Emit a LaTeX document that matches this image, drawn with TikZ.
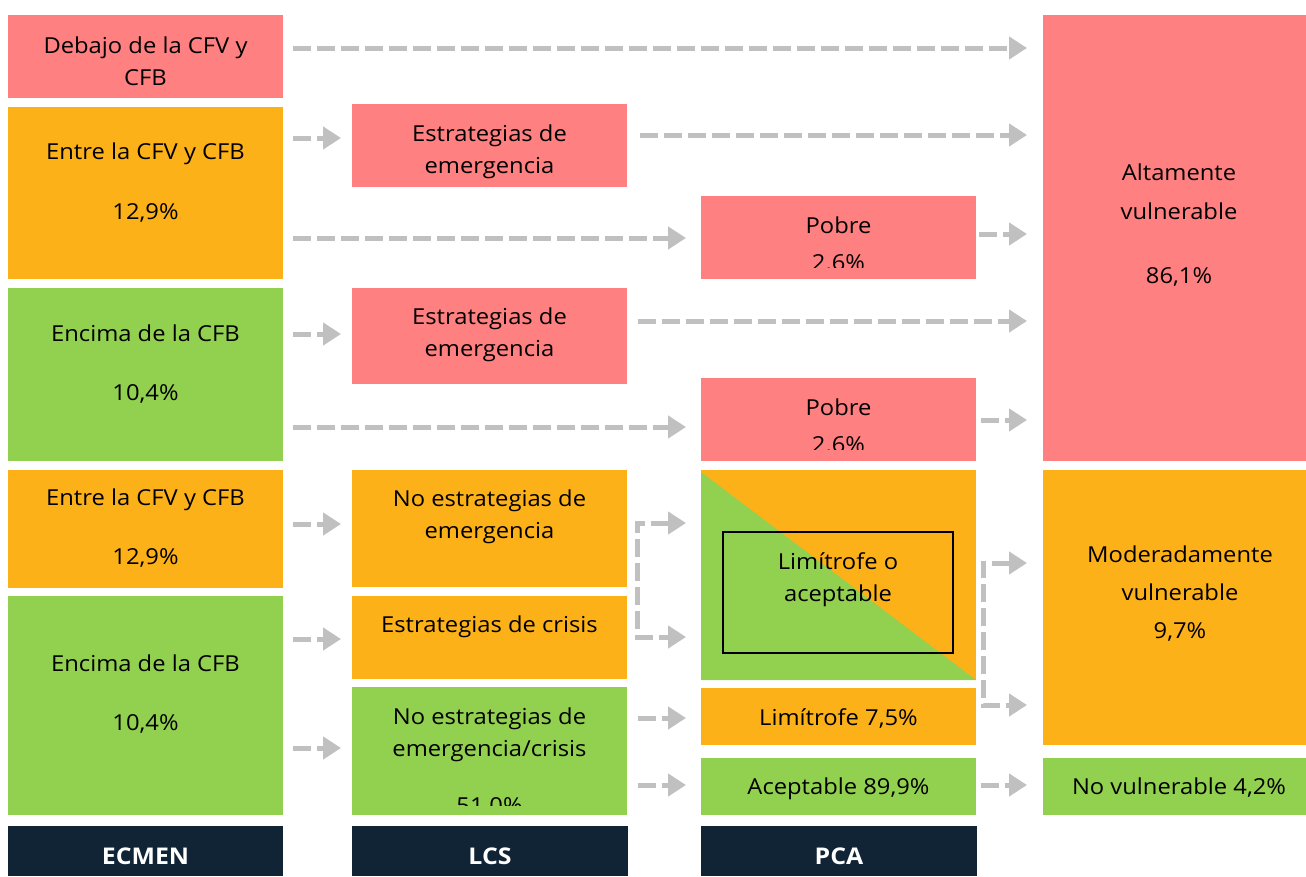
\documentclass[tikz,border=0pt]{standalone}
\usepackage{fontspec}
\setmainfont{Open Sans}[FakeStretch=1.08]
\usetikzlibrary{arrows.meta}
\definecolor{sal}{RGB}{255,128,128}
\definecolor{ora}{RGB}{253,177,25}
\definecolor{grn}{RGB}{146,208,80}
\definecolor{nav}{RGB}{16,36,53}
\definecolor{arr}{RGB}{192,192,192}
\begin{document}
\begin{tikzpicture}[x=1pt,y=-1pt,
 box/.style={inner sep=0pt, outer sep=0pt, draw=none, anchor=north west},
 txt/.style={font=\fontsize{22}{32}\selectfont, align=center, text=black, inner sep=0pt},
 hdrtxt/.style={font=\fontsize{23}{26}\selectfont\bfseries, text=white, inner sep=0pt},
 conn/.style={draw=arr, line width=5pt, dash pattern=on 18pt off 6pt, -{Triangle[length=18pt,width=22pt]}},
 conn2/.style={draw=arr, line width=5pt, dash pattern=on 18pt off 6pt, {Triangle[length=18pt,width=22pt]}-{Triangle[length=18pt,width=22pt]}},
]
\useasboundingbox (0,0) rectangle (1306,876);

% ---------- column 1: ECMEN ----------
\node[box, fill=sal, minimum width=275pt, minimum height=83pt] (e1) at (8,15) {};
\node[box, fill=ora, minimum width=275pt, minimum height=172pt] (e2) at (8,107) {};
\node[box, fill=grn, minimum width=275pt, minimum height=173pt] (e3) at (8,288) {};
\node[box, fill=ora, minimum width=275pt, minimum height=118pt] (e4) at (8,470) {};
\node[box, fill=grn, minimum width=275pt, minimum height=219pt] (e5) at (8,596) {};
\node[box, fill=nav, minimum width=275pt, minimum height=50pt] (h1) at (8,826) {};

\node[txt] (e1t) at (145.5,61) {Debajo de la CFV y\\CFB};
\node[txt] (e2t) at (145.5,183) {Entre la CFV y CFB\\[28pt]12,9\%};
\node[txt] (e3t) at (145.5,364) {Encima de la CFB\\[27pt]10,4\%};
\node[txt] (e4t) at (145.5,528) {Entre la CFV y CFB\\[27pt]12,9\%};
\node[txt] (e5t) at (145.5,694) {Encima de la CFB\\[27pt]10,4\%};
\node[hdrtxt] (h1t) at (145.5,856) {ECMEN};

% ---------- column 2: LCS ----------
\node[box, fill=sal, minimum width=275pt, minimum height=83pt] (l1) at (352,104) {};
\node[box, fill=sal, minimum width=275pt, minimum height=96pt] (l2) at (352,288) {};
\node[box, fill=ora, minimum width=275pt, minimum height=117pt] (l3) at (352,470) {};
\node[box, fill=ora, minimum width=275pt, minimum height=83pt] (l4) at (352,596) {};
\node[box, fill=grn, minimum width=275pt, minimum height=128pt] (l5) at (352,687) {};
\node[box, fill=nav, minimum width=276pt, minimum height=50pt] (h2) at (352,826) {};

\node[txt] (l1t) at (489.5,152) {Estrategias de\\emergencia};
\node[txt] (l2t) at (489.5,335) {Estrategias de\\emergencia};
\node[txt] (l3t) at (489.5,517) {No estrategias de\\emergencia};
\node[txt] (l4t) at (489.5,627) {Estrategias de crisis};
\begin{scope}
\clip (352,687) rectangle (627,805);
\node[txt] (l5t) at (489.5,762) {No estrategias de\\emergencia/crisis\\[25pt]51,0\%};
\end{scope}
\node[hdrtxt] (h2t) at (490,856) {LCS};

% ---------- column 3: PCA ----------
\node[box, fill=sal, minimum width=275pt, minimum height=83pt] (p1) at (701,196) {};
\node[box, fill=sal, minimum width=275pt, minimum height=83pt] (p2) at (701,378) {};
\node[box, fill=ora, minimum width=275pt, minimum height=210pt] (p3) at (701,470) {};
\fill[grn] (701,472) -- (976,680) -- (701,680) -- cycle;
\node[box, draw=black, line width=2.5pt, minimum width=230pt, minimum height=121pt] (p3r) at (723,532) {};
\node[box, fill=ora, minimum width=275pt, minimum height=57pt] (p4) at (701,688) {};
\node[box, fill=grn, minimum width=275pt, minimum height=57pt] (p5) at (701,758) {};
\node[box, fill=nav, minimum width=276pt, minimum height=50pt] (h3) at (701,826) {};

\begin{scope}
\clip (701,196) rectangle (976,267);
\node[txt] (p1t) at (838.5,244) {Pobre\\[5pt]2.6\%};
\end{scope}
\begin{scope}
\clip (701,378) rectangle (976,449);
\node[txt] (p2t) at (838.5,426) {Pobre\\[5pt]2.6\%};
\end{scope}
\node[txt] (p3t) at (838,580) {Limítrofe o\\aceptable};
\node[txt] (p4t) at (838.5,718) {Limítrofe 7,5\%};
\node[txt] (p5t) at (838.5,789) {Aceptable 89,9\%};
\node[hdrtxt] (h3t) at (839,856) {PCA};

% ---------- column 4 ----------
\node[box, fill=sal, minimum width=263pt, minimum height=446pt] (v1) at (1043,15) {};
\node[box, fill=ora, minimum width=263pt, minimum height=275pt] (v2) at (1043,470) {};
\node[box, fill=grn, minimum width=263pt, minimum height=57pt] (v3) at (1043,758) {};

\node[txt, font=\fontsize{22}{39}\selectfont] (v1t) at (1179,225.5) {Altamente\\vulnerable\\[25pt]86,1\%};
\node[txt, font=\fontsize{22}{38}\selectfont] (v2t) at (1180,594) {Moderadamente\\vulnerable\\9,7\%};
\node[txt] (v3t) at (1179,788) {No vulnerable 4,2\%};

% ---------- connector end points ----------
\coordinate (c1a) at (293,48);   \coordinate (c1b) at (1027,48);
\coordinate (c2a) at (293,138);  \coordinate (c2b) at (341,138);
\coordinate (c3a) at (640,135);  \coordinate (c3b) at (1027,135);
\coordinate (c4a) at (293,238);  \coordinate (c4b) at (686,238);
\coordinate (c5a) at (979,234);  \coordinate (c5b) at (1027,234);
\coordinate (c6a) at (293,334);  \coordinate (c6b) at (341,334);
\coordinate (c7a) at (638,321);  \coordinate (c7b) at (1027,321);
\coordinate (c8a) at (293,427);  \coordinate (c8b) at (686,427);
\coordinate (c9a) at (981,420);  \coordinate (c9b) at (1027,420);
\coordinate (d1a) at (293,524);  \coordinate (d1b) at (341,524);
\coordinate (d2a) at (293,639);  \coordinate (d2b) at (341,639);
\coordinate (d3a) at (293,748);  \coordinate (d3b) at (341,748);
\coordinate (d4a) at (686,523);  \coordinate (d4m) at (637,523);
\coordinate (d4n) at (637,637);  \coordinate (d4b) at (686,637);
\coordinate (d5a) at (638,718);  \coordinate (d5b) at (686,718);
\coordinate (d6a) at (638,785);  \coordinate (d6b) at (686,785);
\coordinate (d7a) at (1027,563); \coordinate (d7m) at (983,563);
\coordinate (d7n) at (983,705);  \coordinate (d7b) at (1027,705);
\coordinate (d8a) at (981,785);  \coordinate (d8b) at (1027,785);

\draw[conn] (c1a) -- (c1b);
\draw[conn] (c2a) -- (c2b);
\draw[conn] (c3a) -- (c3b);
\draw[conn] (c4a) -- (c4b);
\draw[conn] (c5a) -- (c5b);
\draw[conn] (c6a) -- (c6b);
\draw[conn] (c7a) -- (c7b);
\draw[conn] (c8a) -- (c8b);
\draw[conn] (c9a) -- (c9b);
\draw[conn] (d1a) -- (d1b);
\draw[conn] (d2a) -- (d2b);
\draw[conn] (d3a) -- (d3b);
\draw[conn2] (d4a) -- (d4m) -- (d4n) -- (d4b);
\draw[conn] (d5a) -- (d5b);
\draw[conn] (d6a) -- (d6b);
\draw[conn2] (d7a) -- (d7m) -- (d7n) -- (d7b);
\draw[conn] (d8a) -- (d8b);
\end{tikzpicture}
\end{document}
